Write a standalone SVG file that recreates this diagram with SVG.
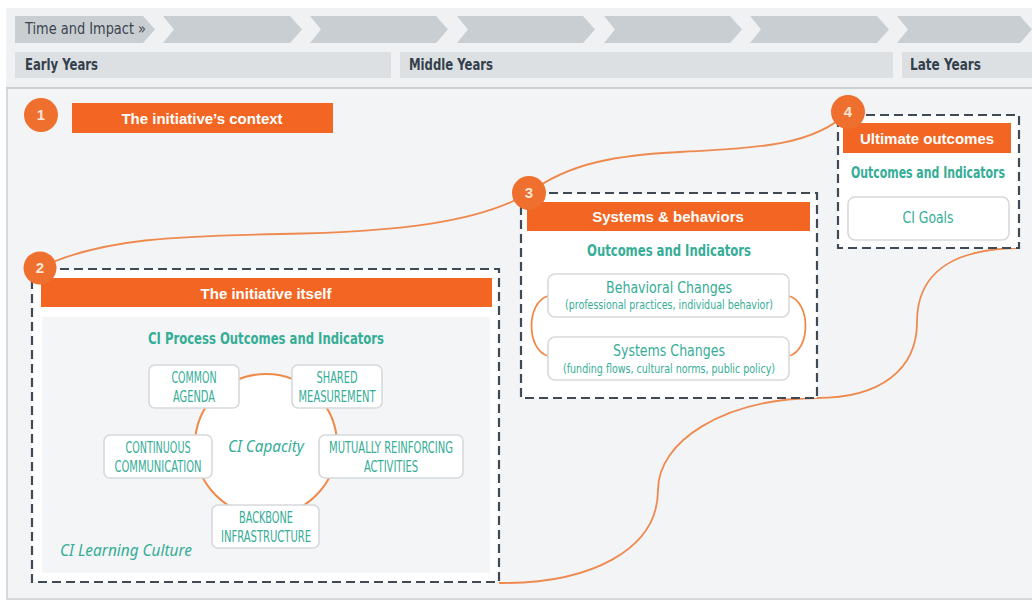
<svg xmlns="http://www.w3.org/2000/svg" width="1032" height="605" viewBox="0 0 1032 605">
<defs>
<style>
.chev{fill:#c9ced2}
.yr{fill:#dde0e3}
.yrt{font-family:"Liberation Sans Narrow","DejaVu Sans Condensed","DejaVu Sans",sans-serif;font-weight:bold;font-size:15px;fill:#33404c}
.hdr{font-family:"Liberation Sans Narrow","DejaVu Sans Condensed","DejaVu Sans",sans-serif;font-size:15px;fill:#3a4550}
.bar{fill:#f26522}
.bart{font-family:"Liberation Sans",Arial,sans-serif;font-weight:bold;font-size:15px;fill:#ffffff;text-anchor:middle}
.num{fill:#ef6f2e}
.numt{font-family:"Liberation Sans",Arial,sans-serif;font-weight:bold;font-size:15px;fill:#fde6d6;text-anchor:middle}
.dash{fill:#ffffff;stroke:#3e4b57;stroke-width:2.2;stroke-dasharray:9 5}
.sub{font-family:"Liberation Sans Narrow","DejaVu Sans Condensed","DejaVu Sans",sans-serif;font-weight:bold;font-size:16px;fill:#35ad97;text-anchor:middle}
.box{fill:#ffffff;stroke:#d6d9dc;stroke-width:1.6}
.cap{font-family:"Liberation Sans Narrow","DejaVu Sans Condensed","DejaVu Sans",sans-serif;font-size:16px;fill:#35ad97;text-anchor:middle}
.reg{font-family:"Liberation Sans Narrow","DejaVu Sans Condensed","DejaVu Sans",sans-serif;font-size:16px;fill:#35ad97;text-anchor:middle}
.small{font-family:"Liberation Sans Narrow","DejaVu Sans Condensed","DejaVu Sans",sans-serif;font-size:13px;fill:#35ad97;text-anchor:middle}
.ital{font-family:"Noto Sans","DejaVu Sans",sans-serif;font-style:italic;font-size:16px;fill:#35ad97}
.conn{fill:none;stroke:#ee8a50;stroke-width:1.8}
</style>
</defs>
<rect x="0" y="0" width="1032" height="605" fill="#ffffff"/>
<g id="header">
<rect x="6" y="8" width="1026" height="80" fill="#eff1f3"/>
<polygon class="chev" points="15,16 143,16 155,29.5 143,43 15,43"/>
<polygon class="chev" points="163,16 290,16 302,29.5 290,43 163,43 174,29.5"/>
<polygon class="chev" points="310,16 436,16 448,29.5 436,43 310,43 321,29.5"/>
<polygon class="chev" points="457,16 583,16 595,29.5 583,43 457,43 468,29.5"/>
<polygon class="chev" points="604,16 730,16 742,29.5 730,43 604,43 615,29.5"/>
<polygon class="chev" points="750,16 877,16 889,29.5 877,43 750,43 761,29.5"/>
<polygon class="chev" points="897,16 1020,16 1032,29.5 1020,43 897,43 908,29.5"/>
<text class="hdr" x="25" y="34" textLength="121" lengthAdjust="spacingAndGlyphs">Time and Impact »</text>
<rect class="yr" x="15" y="52" width="376" height="26"/>
<rect class="yr" x="400" y="52" width="493" height="26"/>
<rect class="yr" x="902" y="52" width="130" height="26"/>
<text class="yrt" x="25" y="70" textLength="73" lengthAdjust="spacingAndGlyphs">Early Years</text>
<text class="yrt" x="409" y="70" textLength="84" lengthAdjust="spacingAndGlyphs">Middle Years</text>
<text class="yrt" x="910" y="70" textLength="71" lengthAdjust="spacingAndGlyphs">Late Years</text>
</g>
<rect x="7" y="88" width="1027" height="511" fill="#f3f4f6" stroke="#d6d9dc" stroke-width="2"/>
<line x1="6" y1="88" x2="1032" y2="88" stroke="#cdd1d4" stroke-width="2"/>
<g id="connectors">
<path class="conn" d="M40,268 C100,238 180,236 280,234 C400,232 480,222 529,193"/>
<path class="conn" d="M529,193 C570,162 620,155 680,152 C760,148 815,145 848,112"/>
<path class="conn" d="M499,583 C590,584 658,550 658,490 C658,442 722,399 817,398"/>
<path class="conn" d="M817,398 C880,398 917,370 917,322 C917,275 950,249 1018,248"/>
</g>
<g id="node-1">
<circle class="num" cx="41" cy="115" r="17"/>
<text class="numt" x="41" y="120">1</text>
<rect class="bar" x="72" y="103" width="261" height="30"/>
<text class="bart" x="202" y="124">The initiative’s context</text>
</g>
<g id="node-2">
<rect class="dash" x="32" y="269" width="467" height="313"/>
<rect class="bar" x="41" y="278" width="451" height="29"/>
<text class="bart" x="266" y="299">The initiative itself</text>
<rect x="42" y="317" width="448" height="256" fill="#f3f5f6"/>
<text class="sub" x="266" y="344" textLength="236" lengthAdjust="spacingAndGlyphs">CI Process Outcomes and Indicators</text>
<circle cx="266" cy="445" r="71" fill="#ffffff" stroke="#f08a4b" stroke-width="2"/>
<text class="ital" x="266" y="452" text-anchor="middle" textLength="76" lengthAdjust="spacingAndGlyphs">CI Capacity</text>
<text class="ital" x="60" y="556" textLength="132" lengthAdjust="spacingAndGlyphs">CI Learning Culture</text>
<g id="box-common-agenda">
<rect class="box" x="149" y="365" width="90" height="43" rx="6"/>
<text class="cap" x="194" y="383" textLength="45" lengthAdjust="spacingAndGlyphs">COMMON</text>
<text class="cap" x="194" y="402" textLength="42" lengthAdjust="spacingAndGlyphs">AGENDA</text>
</g>
<g id="box-shared-measurement">
<rect class="box" x="292" y="365" width="90" height="43" rx="6"/>
<text class="cap" x="337" y="383" textLength="41" lengthAdjust="spacingAndGlyphs">SHARED</text>
<text class="cap" x="337" y="402" textLength="77" lengthAdjust="spacingAndGlyphs">MEASUREMENT</text>
</g>
<g id="box-continuous-communication">
<rect class="box" x="104" y="435" width="108" height="43" rx="6"/>
<text class="cap" x="158" y="453" textLength="65" lengthAdjust="spacingAndGlyphs">CONTINUOUS</text>
<text class="cap" x="158" y="472" textLength="87" lengthAdjust="spacingAndGlyphs">COMMUNICATION</text>
</g>
<g id="box-mutually-reinforcing">
<rect class="box" x="319" y="435" width="144" height="43" rx="6"/>
<text class="cap" x="391" y="453" textLength="124" lengthAdjust="spacingAndGlyphs">MUTUALLY REINFORCING</text>
<text class="cap" x="391" y="472" textLength="54" lengthAdjust="spacingAndGlyphs">ACTIVITIES</text>
</g>
<g id="box-backbone">
<rect class="box" x="212" y="505" width="107" height="43" rx="6"/>
<text class="cap" x="266" y="523" textLength="54" lengthAdjust="spacingAndGlyphs">BACKBONE</text>
<text class="cap" x="266" y="542" textLength="90" lengthAdjust="spacingAndGlyphs">INFRASTRUCTURE</text>
</g>
<circle class="num" cx="40" cy="268" r="16.5"/>
<text class="numt" x="40" y="273">2</text>
</g>
<g id="node-3">
<rect class="dash" x="521" y="193" width="296" height="205"/>
<rect class="bar" x="527" y="202" width="283" height="29"/>
<text class="bart" x="668" y="222">Systems &amp; behaviors</text>
<text class="sub" x="669" y="256" textLength="164" lengthAdjust="spacingAndGlyphs">Outcomes and Indicators</text>
<path d="M548,296 C526,302 526,350 548,356" fill="none" stroke="#f08a4b" stroke-width="1.8"/>
<path d="M789,296 C811,302 811,350 789,356" fill="none" stroke="#f08a4b" stroke-width="1.8"/>
<rect class="box" x="548" y="274" width="241" height="43" rx="7"/>
<text class="reg" x="669" y="293" textLength="126" lengthAdjust="spacingAndGlyphs">Behavioral Changes</text>
<text class="small" x="669" y="309" textLength="208" lengthAdjust="spacingAndGlyphs">(professional practices, individual behavior)</text>
<rect class="box" x="548" y="337" width="241" height="43" rx="7"/>
<text class="reg" x="669" y="356" textLength="112" lengthAdjust="spacingAndGlyphs">Systems Changes</text>
<text class="small" x="669" y="373" textLength="212" lengthAdjust="spacingAndGlyphs">(funding flows, cultural norms, public policy)</text>
<circle class="num" cx="529" cy="193" r="17"/>
<text class="numt" x="529" y="198">3</text>
</g>
<g id="node-4">
<rect class="dash" x="838" y="115" width="181" height="133"/>
<rect class="bar" x="843" y="123" width="168" height="30"/>
<text class="bart" x="927" y="144">Ultimate outcomes</text>
<text class="sub" x="928" y="178" font-size="15" textLength="154" lengthAdjust="spacingAndGlyphs">Outcomes and Indicators</text>
<rect class="box" x="848" y="197" width="161" height="43" rx="7"/>
<text class="reg" x="928" y="223" textLength="51" lengthAdjust="spacingAndGlyphs">CI Goals</text>
<circle class="num" cx="848" cy="112" r="17"/>
<text class="numt" x="848" y="117">4</text>
</g>
</svg>
